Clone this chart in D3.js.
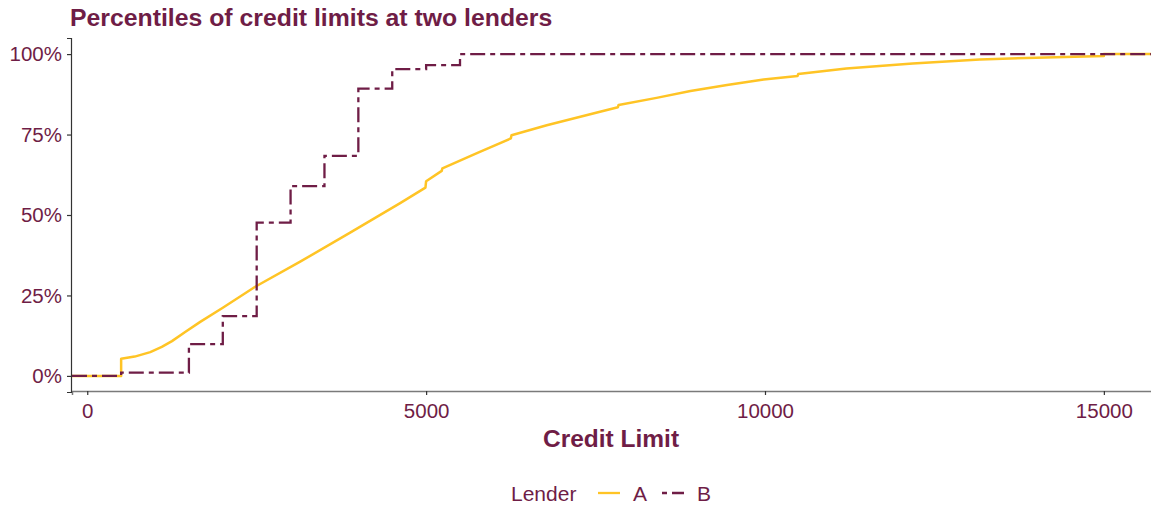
<!DOCTYPE html>
<html>
<head>
<meta charset="utf-8">
<script src="https://cdn.jsdelivr.net/npm/d3@7"></script>
<style>
  html, body { margin: 0; padding: 0; background: #fff; }
  svg { display: block; }
  text { font-family: "Liberation Sans", Arial, sans-serif; }
</style>
</head>
<body>
<div id="chart"></div>
<script>
// ---- Data ----
const lenders = ["A", "B"];
const lenderColors = ["#FFC425", "#6F1D46"];

const limitsA = [500, 500, 700, 930, 1100, 1250, 1450, 1667, 2000, 2478, 3142, 3879, 4617, 4990, 5000, 5230, 5240, 5750, 6250, 6260, 6780, 7566, 7830, 7840, 8400, 8900, 9440, 9980, 10480, 10490, 11200, 12180, 13170, 14000, 15000, 15000];
const shareA  = [0, 0.053, 0.060, 0.074, 0.090, 0.108, 0.137, 0.168, 0.212, 0.277, 0.355, 0.445, 0.537, 0.585, 0.605, 0.637, 0.645, 0.692, 0.738, 0.748, 0.779, 0.821, 0.835, 0.842, 0.864, 0.885, 0.904, 0.921, 0.932, 0.938, 0.955, 0.971, 0.983, 0.989, 0.994, 1.0];

// Lender B: step ECDF (limit where the step happens, share after the step)
const limitsB = [500, 1500, 2000, 2500, 3000, 3500, 4000, 4500, 5000, 5500];
const shareB  = [0.010, 0.099, 0.186, 0.476, 0.590, 0.684, 0.893, 0.953, 0.966, 1.0];

const xTicks = [0, 5000, 10000, 15000];
const yTicks = [0, 0.25, 0.5, 0.75, 1];

const titleText = "Percentiles of credit limits at two lenders";
const xTitle = "Credit Limit";
const legendTitle = "Lender";

// ---- Layout ----
const W = 1151, H = 508;
const purple = "#6F1D46";
const dataMin = 500, dataMax = 15000;
const pad = (dataMax - dataMin) * 0.05;
const xDom = [dataMin - pad, dataMax + pad];

const x = d3.scaleLinear().domain(xDom).range([72, 1153]);
const y = d3.scaleLinear().domain([-0.05, 1.05]).range([392, 38]);

const svg = d3.select("#chart").append("svg")
  .attr("width", W).attr("height", H);

// Title
svg.append("text")
  .attr("x", 70).attr("y", 26)
  .attr("fill", purple)
  .attr("font-size", 24.8).attr("font-weight", "bold")
  .text(titleText);

// Lines
const line = d3.line().x(d => x(d[0])).y(d => y(d[1]));
const stepLine = d3.line().x(d => x(d[0])).y(d => y(d[1])).curve(d3.curveStepAfter);

const ptsA = [[xDom[0], 0]].concat(limitsA.map((v, i) => [v, shareA[i]])).concat([[xDom[1], 1]]);
const ptsB = [[xDom[0], 0]].concat(limitsB.map((v, i) => [v, shareB[i]])).concat([[xDom[1], 1]]);

const g = svg.append("g");
g.append("path").datum(ptsA)
  .attr("d", line)
  .attr("fill", "none")
  .attr("stroke", lenderColors[0])
  .attr("stroke-width", 2.5)
  .attr("stroke-linejoin", "round");

g.append("path").datum(ptsB)
  .attr("d", stepLine)
  .attr("fill", "none")
  .attr("stroke", lenderColors[1])
  .attr("stroke-width", 2.3)
  .attr("stroke-dasharray", "15 5 5 5");

// Axes
const xAxisY = 391;
const axisX = svg.append("g").attr("transform", `translate(0,${xAxisY})`)
  .call(d3.axisBottom(x).tickValues(xTicks).tickFormat(d3.format("d")).tickSizeOuter(0).tickSize(4).tickPadding(8));
axisX.select(".domain").attr("stroke", "#7a7a7a").attr("stroke-width", 1.5);
axisX.selectAll(".tick line").attr("stroke", "#333").attr("stroke-width", 1.2);
axisX.selectAll(".tick text").attr("fill", purple).attr("font-size", 20.5)
  .attr("font-family", "Liberation Sans, Arial, sans-serif");

const axisY = svg.append("g").attr("transform", `translate(${x.range()[0] - 1},0)`)
  .call(d3.axisLeft(y).tickValues(yTicks).tickFormat(d3.format(".0%")).tickSizeOuter(0).tickSize(4).tickPadding(5));
axisY.select(".domain").attr("stroke", "#333").attr("stroke-width", 1.2);
axisY.selectAll(".tick line").attr("stroke", "#333").attr("stroke-width", 1.2);
axisY.selectAll(".tick text").attr("fill", purple).attr("font-size", 20.5)
  .attr("font-family", "Liberation Sans, Arial, sans-serif");

// X axis title
svg.append("text")
  .attr("x", 611).attr("y", 447)
  .attr("text-anchor", "middle")
  .attr("fill", purple)
  .attr("font-size", 24.5).attr("font-weight", "bold")
  .text(xTitle);

// Legend
const lg = svg.append("g");
lg.append("text").attr("x", 511).attr("y", 501)
  .attr("fill", purple).attr("font-size", 21).text(legendTitle);
const keyX = [598, 662];
lenders.forEach((name, i) => {
  lg.append("line")
    .attr("x1", keyX[i]).attr("x2", keyX[i] + 22)
    .attr("y1", 493).attr("y2", 493)
    .attr("stroke", lenderColors[i]).attr("stroke-width", 2.3)
    .attr("stroke-dasharray", i === 1 ? "15 5 5 5" : null)
    .attr("stroke-dashoffset", i === 1 ? 20 : null);
  lg.append("text").attr("x", keyX[i] + 35).attr("y", 501)
    .attr("fill", purple).attr("font-size", 21).text(name);
});
</script>
</body>
</html>
